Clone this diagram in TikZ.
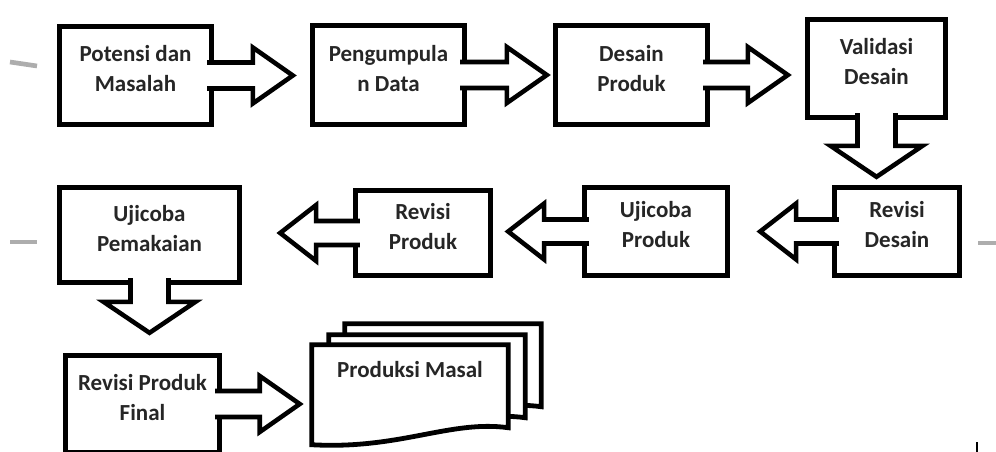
\documentclass[tikz,border=0pt]{standalone}
\usepackage{fontspec}
\setmainfont{Carlito}
\usetikzlibrary{calc}

\tikzset{
  box/.style={draw, line width=4pt, fill=white, align=center, inner sep=0pt,
    font=\bfseries\fontsize{17.25}{22.5}\selectfont, text=black!85, text depth=10pt},
  lbl/.style={inner sep=0pt, font=\bfseries\fontsize{17.25}{22.5}\selectfont, text=black!85},
  blockarrow/.style={draw, line width=3.4pt, fill=white, line join=miter},
  sheet/.style={draw, line width=3.6pt, fill=white},
  smudge/.style={line width=3.5pt, draw=black!32}
}

% block arrow to the right: source node, target node, gap before target
\newcommand{\arrR}[3]{%
  \coordinate (tip) at ($(#2.west |- #1.east)+(-#3,0)$);
  \draw[blockarrow] ($(#1.east)+(-7,-13)$) -- ($(tip)+(-40,-13)$) -- ($(tip)+(-40,-28)$) -- (tip)
    -- ($(tip)+(-40,28)$) -- ($(tip)+(-40,13)$) -- ($(#1.east)+(-7,13)$);
}
% block arrow to the left
\newcommand{\arrL}[3]{%
  \coordinate (tip) at ($(#2.east |- #1.west)+(#3,0)$);
  \draw[blockarrow] ($(#1.west)+(7,-12)$) -- ($(tip)+(36,-12)$) -- ($(tip)+(36,-28)$) -- (tip)
    -- ($(tip)+(36,28)$) -- ($(tip)+(36,12)$) -- ($(#1.west)+(7,12)$);
}
% block arrow downwards
\newcommand{\arrD}[3]{%
  \coordinate (tip) at ($(#1.south |- #2.north)+(0,-#3)$);
  \draw[blockarrow] ($(#1.south)+(-19,-7)$) -- ($(tip)+(-19,-31)$) -- ($(tip)+(-46,-31)$) -- (tip)
    -- ($(tip)+(46,-31)$) -- ($(tip)+(19,-31)$) -- ($(#1.south)+(19,-7)$);
}
% one sheet of the stacked document, shifted by (#1,#2)
\newcommand{\docsheet}[2]{%
  \draw[sheet] ($(pmas.north west)+(#1,#2)$) -- ($(pmas.north east)+(#1,#2)$)
    -- ($(pmas.north east)+(#1,#2+83)$)
    .. controls ($(pmas.north east)+(#1-58,#2+75)$) and ($(pmas.north west)+(#1+88,#2+105)$) ..
    ($(pmas.north west)+(#1,#2+100)$) -- cycle;
}

\begin{document}
\begin{tikzpicture}[x=0.75pt,y=0.75pt,yscale=-1,xscale=1]
\useasboundingbox (0,0) rectangle (996,452);
\clip (0,0) rectangle (996,452);

%Straight Lines (grey marks at the margins)
\draw[smudge] (10,62) -- (37,66);
\draw[smudge] (10,242) -- (37,242);
\draw[smudge] (978,243) -- (996,243);
\draw[line width=1.5pt] (977,442) -- (977,452);

%Shapes: first row
\node[box, minimum width=114pt, minimum height=73.5pt] (pm) at (135.5,75.5) {Potensi dan\\Masalah};
\node[box, minimum width=114pt, minimum height=74pt] (pd) at (388.5,75) {Pengumpula\\n Data};
\node[box, minimum width=114pt, minimum height=74pt] (dp) at (631.5,75) {Desain\\Produk};
\node[box, minimum width=103.5pt, minimum height=73.5pt] (vd) at (876.5,68.5) {Validasi\\Desain};

%Shapes: second row
\node[box, minimum width=93.75pt, minimum height=66pt] (rd) at (897,231.5) {Revisi\\Desain};
\node[box, minimum width=107.25pt, minimum height=66pt] (up) at (656,231.5) {Ujicoba\\Produk};
\node[box, minimum width=101.25pt, minimum height=63.75pt] (rp) at (423,233) {Revisi\\Produk};
\node[box, minimum width=135pt, minimum height=71.25pt] (ui) at (149.5,235) {Ujicoba\\Pemakaian};

%Shapes: third row
\node[box, minimum width=115.5pt, minimum height=72.75pt] (rf) at (142.5,404) {Revisi Produk\\Final};
\node[minimum width=147pt, minimum height=75pt, inner sep=0pt] (pmas) at (410,395) {};
\docsheet{33}{-21}
\docsheet{17}{-10}
\docsheet{0}{0}
\node[lbl] (pmtxt) at ($(pmas.north)+(0,25)$) {Produksi Masal};

%Block arrows
\arrR{pm}{pd}{17}
\arrR{pd}{dp}{6}
\arrR{dp}{vd}{17}
\arrD{vd}{rd}{8}
\arrL{rd}{up}{30}
\arrL{up}{rp}{15}
\arrL{rp}{ui}{38}
\arrD{ui}{rf}{20}
\arrR{rf}{pmas}{12}

\end{tikzpicture}
\end{document}
